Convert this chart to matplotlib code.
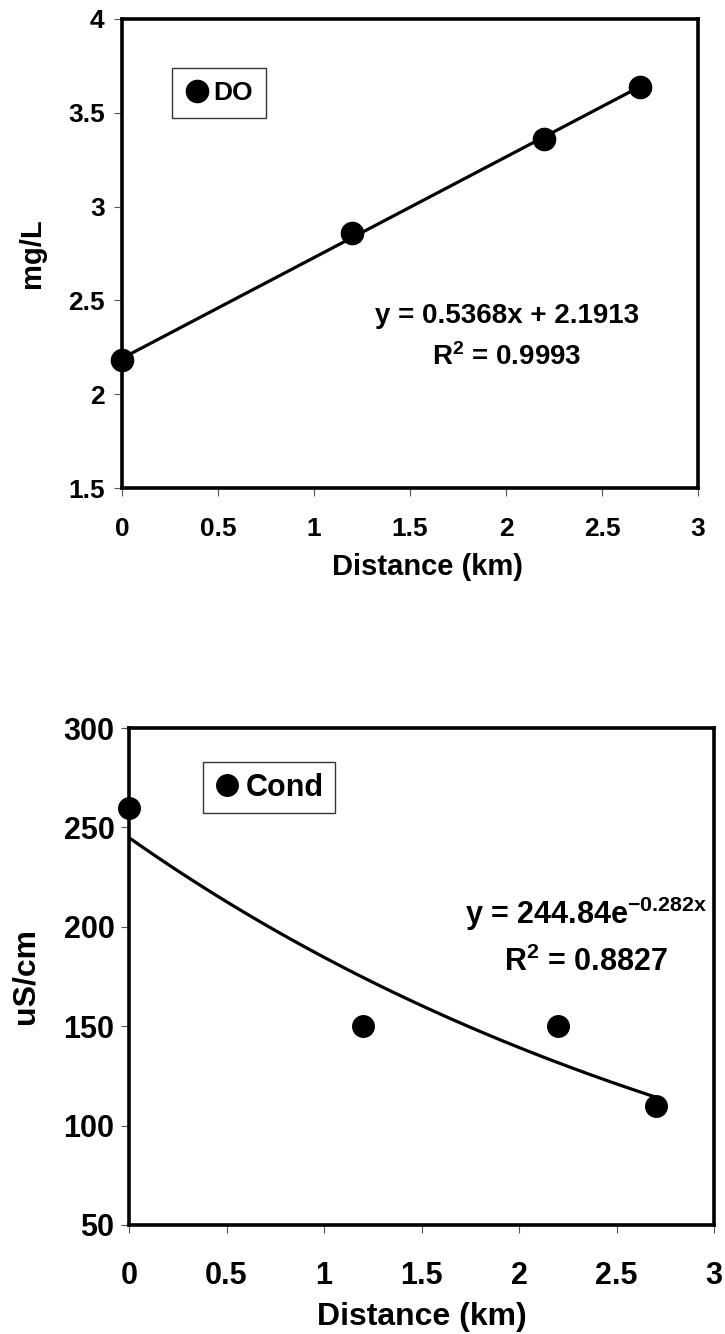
import numpy as np
import matplotlib
matplotlib.use("Agg")
import matplotlib.pyplot as plt

plt.rcParams['font.family'] = ['Liberation Sans', 'DejaVu Sans']
plt.rcParams['font.weight'] = 'bold'
plt.rcParams['mathtext.fontset'] = 'custom'
plt.rcParams['mathtext.rm'] = 'Liberation Sans:bold'
plt.rcParams['mathtext.bf'] = 'Liberation Sans:bold'
plt.rcParams['mathtext.it'] = 'Liberation Sans:bold'
plt.rcParams['axes.unicode_minus'] = False

# ---- data ----
distance_km = [0, 1.2, 2.2, 2.7]
do_mgL = [2.18, 2.86, 3.36, 3.64]
cond_uScm = [260, 150, 150, 110]

do_slope, do_intercept = 0.5368, 2.1913
cond_a, cond_b = 244.84, -0.282

x_ticks = [0, 0.5, 1, 1.5, 2, 2.5, 3]
x_ticklabels = ['0', '0.5', '1', '1.5', '2', '2.5', '3']
do_yticks = [1.5, 2, 2.5, 3, 3.5, 4]
do_yticklabels = ['1.5', '2', '2.5', '3', '3.5', '4']
cond_yticks = [50, 100, 150, 200, 250, 300]
cond_yticklabels = ['50', '100', '150', '200', '250', '300']

W, H = 725, 1334
fig = plt.figure(figsize=(W / 100, H / 100), dpi=100)


def box(l, t, r, b):
    return [l / W, 1 - b / H, (r - l) / W, (b - t) / H]


def style(ax, fs, xpad, ypad):
    for s in ax.spines.values():
        s.set_linewidth(2.6)
        s.set_color('black')
    ax.tick_params(direction='out', length=5.5, width=0.8, color='#555555',
                   labelsize=fs)
    ax.tick_params(axis='x', pad=xpad)
    ax.tick_params(axis='y', pad=ypad)
    for lab in ax.get_xticklabels() + ax.get_yticklabels():
        lab.set_fontweight('bold')


# ---------- top: DO ----------
L1, T1, R1, B1 = 122, 19, 698, 488
ax1 = fig.add_axes(box(L1, T1, R1, B1))
xx = np.linspace(0, 2.7, 100)
ax1.plot(xx, do_slope * xx + do_intercept, color='black', lw=2.3, zorder=2)
ax1.plot(distance_km, do_mgL, 'o', color='black', ms=16, zorder=3, label='DO',
         clip_on=False)
ax1.set_xlim(0, 3)
ax1.set_ylim(1.5, 4)
ax1.set_xticks(x_ticks)
ax1.set_xticklabels(x_ticklabels)
ax1.set_yticks(do_yticks)
ax1.set_yticklabels(do_yticklabels)
style(ax1, 19, 15.5, 7)
ax1.set_xlabel('Distance (km)', fontsize=21, fontweight='bold')
ax1.xaxis.label.set_va('center')
ax1.xaxis.set_label_coords((428 - L1) / (R1 - L1), (B1 - 567) / (B1 - T1))
ax1.set_ylabel('mg/L', fontsize=21, fontweight='bold')
ax1.yaxis.label.set_va('center')
ax1.yaxis.set_label_coords((32 - L1) / (R1 - L1), 0.5)
leg1 = ax1.legend(loc='upper left',
                  bbox_to_anchor=((172 - L1) / (R1 - L1), (B1 - 68) / (B1 - T1)),
                  fancybox=False, edgecolor='#333333', framealpha=1,
                  handletextpad=0.15, borderpad=0.5, handlelength=0.9,
                  borderaxespad=0,
                  prop={'size': 19, 'weight': 'bold'}, markerscale=1.0)
leg1.get_frame().set_linewidth(1.0)
ax1.text(2.005, 2.417, f'y = {do_slope}x + {do_intercept}', fontsize=20,
         fontweight='bold', ha='center', va='center')
ax1.text(2.005, 2.198, r'R$^{\mathbf{2}}$ = 0.9993', fontsize=20,
         fontweight='bold', ha='center', va='center')

# ---------- bottom: Cond ----------
L2, T2, R2, B2 = 129, 728, 714, 1225
ax2 = fig.add_axes(box(L2, T2, R2, B2))
xx = np.linspace(0, 2.7, 100)
ax2.plot(xx, cond_a * np.exp(cond_b * xx), color='black', lw=2.3, zorder=2)
ax2.plot(distance_km, cond_uScm, 'o', color='black', ms=15.5, zorder=3, label='Cond',
         clip_on=False)
ax2.set_xlim(0, 3)
ax2.set_ylim(50, 300)
ax2.set_xticks(x_ticks)
ax2.set_xticklabels(x_ticklabels)
ax2.set_yticks(cond_yticks)
ax2.set_yticklabels(cond_yticklabels)
style(ax2, 22, 20.5, 5)
ax2.set_xlabel('Distance (km)', fontsize=23, fontweight='bold')
ax2.xaxis.label.set_va('center')
ax2.xaxis.set_label_coords(0.5, (B2 - 1317) / (B2 - T2))
ax2.set_ylabel('uS/cm', fontsize=23, fontweight='bold')
ax2.yaxis.label.set_va('center')
ax2.yaxis.set_label_coords((25 - L2) / (R2 - L2), 0.5)
leg2 = ax2.legend(loc='upper left',
                  bbox_to_anchor=((203 - L2) / (R2 - L2), (B2 - 762) / (B2 - T2)),
                  fancybox=False, edgecolor='#333333', framealpha=1,
                  handletextpad=0.15, borderpad=0.35, handlelength=0.9,
                  borderaxespad=0,
                  prop={'size': 22, 'weight': 'bold'}, markerscale=1.0)
leg2.get_frame().set_linewidth(1.0)
ax2.text(2.344, 206.4, r'y = 244.84e$^{\mathbf{-0.282x}}$', fontsize=22,
         fontweight='bold', ha='center', va='center')
ax2.text(2.344, 182.3, r'R$^{\mathbf{2}}$ = 0.8827', fontsize=22,
         fontweight='bold', ha='center', va='center')

fig.savefig('out.png', dpi=100)
